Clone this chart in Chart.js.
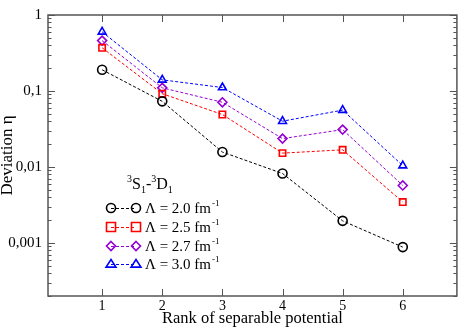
<!DOCTYPE html>
<html><head><meta charset="utf-8">
<script src="https://cdn.jsdelivr.net/npm/chart.js@4.4.1/dist/chart.umd.min.js"></script>
<style>html,body{margin:0;padding:0;background:#fff}#w{width:463px;height:334px}</style>
</head><body><div id="w"><canvas id="c"></canvas></div>
<script>
const ranks = [1, 2, 3, 4, 5, 6];
const eta20 = [0.19, 0.073, 0.0157, 0.0082, 0.00195, 0.00088];
const eta25 = [0.37, 0.092, 0.049, 0.0152, 0.0168, 0.00345];
const eta27 = [0.46, 0.11, 0.071, 0.0236, 0.031, 0.0057];
const eta30 = [0.60, 0.14, 0.111, 0.040, 0.056, 0.0104];
const lambdas = ['2.0', '2.5', '2.7', '3.0'];
const xTicks = [1, 2, 3, 4, 5, 6];
const yTicks = [0.001, 0.01, 0.1, 1];
const yLabels = {0.001: '0,001', 0.01: '0,01', 0.1: '0,1', 1: '1'};

const series = [eta20, eta25, eta27, eta30];
const colors = ['#000000', '#ff0000', '#9400d3', '#0000ff'];
const styles = ['circle', 'rect', 'rectRot', 'triangle'];
const FONT = '"Liberation Serif", "Times New Roman", serif';

const datasets = series.map((s, i) => ({
  label: 'Λ = ' + lambdas[i] + ' fm-1',
  data: ranks.map((r, j) => ({x: r, y: s[j]})),
  borderColor: colors[i], backgroundColor: 'rgba(0,0,0,0)',
  borderWidth: 1, borderDash: [3, 2],
  pointStyle: styles[i], pointRadius: 4.5, pointBorderWidth: 1.6,
  pointBorderColor: colors[i], pointBackgroundColor: 'rgba(0,0,0,0)',
  tension: 0
}));

function drawMarker(ctx, style, x, y, r, color) {
  ctx.save();
  ctx.strokeStyle = color; ctx.lineWidth = 1.6; ctx.setLineDash([]);
  ctx.beginPath();
  if (style === 'circle') ctx.arc(x, y, r, 0, Math.PI * 2);
  else if (style === 'rect') { const s = r; ctx.rect(x - s, y - s, 2 * s, 2 * s); }
  else if (style === 'rectRot') { ctx.moveTo(x, y - r); ctx.lineTo(x + r, y); ctx.lineTo(x, y + r); ctx.lineTo(x - r, y); ctx.closePath(); }
  else { ctx.moveTo(x, y - r); ctx.lineTo(x + r * 1.1, y + r * 0.7); ctx.lineTo(x - r * 1.1, y + r * 0.7); ctx.closePath(); }
  ctx.stroke();
  ctx.restore();
}

const frame = {
  id: 'frame',
  afterDraw(chart) {
    const {ctx, chartArea: a, scales: {x, y}} = chart;
    ctx.save();
    ctx.strokeStyle = '#555'; ctx.lineWidth = 1.5;
    ctx.strokeRect(a.left, a.top, a.right - a.left, a.bottom - a.top);
    ctx.lineWidth = 1;
    ctx.beginPath();
    for (const v of xTicks) {
      const px = Math.round(x.getPixelForValue(v)) + 0.5;
      ctx.moveTo(px, a.bottom); ctx.lineTo(px, a.bottom - 7);
      ctx.moveTo(px, a.top); ctx.lineTo(px, a.top + 7);
    }
    for (let e = -4; e <= 0; e++) {
      for (let m = 1; m <= 9; m++) {
        const v = m * Math.pow(10, e);
        if (v < y.min || v > y.max) continue;
        const py = Math.round(y.getPixelForValue(v)) + 0.5;
        const len = m === 1 ? 7 : 3.5;
        ctx.moveTo(a.left, py); ctx.lineTo(a.left + len, py);
        ctx.moveTo(a.right, py); ctx.lineTo(a.right - len, py);
      }
    }
    ctx.stroke();
    ctx.restore();
  },
  afterDatasetsDraw(chart) {
    const ctx = chart.ctx;
    ctx.save();
    ctx.fillStyle = '#000';
    ctx.textBaseline = 'alphabetic';
    let tx = 127; const by = 189;
    const big = '16px ' + FONT, small = '10px ' + FONT;
    const parts = [['3', small, -7], ['S', big, 0], ['1', small, 4], ['-', big, 0], ['3', small, -7], ['D', big, 0], ['1', small, 4]];
    for (const [t, f, dy] of parts) { ctx.font = f; ctx.fillText(t, tx, by + dy); tx += ctx.measureText(t).width; }
    const rows = [208, 227, 246, 264];
    chart.data.datasets.forEach((ds, i) => {
      const yy = rows[i];
      ctx.save();
      ctx.strokeStyle = ds.borderColor; ctx.lineWidth = 1; ctx.setLineDash([3, 2]);
      ctx.beginPath(); ctx.moveTo(111, yy + 0.5); ctx.lineTo(136, yy + 0.5); ctx.stroke();
      ctx.restore();
      drawMarker(ctx, styles[i], 111, yy, 4.5, colors[i]);
      drawMarker(ctx, styles[i], 136, yy, 4.5, colors[i]);
      ctx.font = '15px ' + FONT;
      const t = 'Λ = ' + lambdas[i] + ' fm';
      ctx.fillText(t, 145, yy + 5);
      const w = ctx.measureText(t).width;
      ctx.font = '9px ' + FONT;
      ctx.fillText('-1', 145 + w + 1, yy - 2);
    });
    ctx.restore();
  }
};

new Chart(document.getElementById('c'), {
  type: 'line',
  data: {datasets},
  options: {
    responsive: true, maintainAspectRatio: false, animation: false,
    layout: {padding: {top: 6, right: 1, left: 0, bottom: 0}},
    plugins: {legend: {display: false}, tooltip: {enabled: false}},
    scales: {
      x: {
        type: 'linear', min: 0.1, max: 6.9,
        afterBuildTicks: s => { s.ticks = xTicks.map(v => ({value: v})); },
        afterFit: s => { s.height = 38; },
        grid: {display: false, drawTicks: false},
        border: {display: false},
        ticks: {color: '#000', font: {family: FONT, size: 14}, padding: 2, maxRotation: 0},
        title: {display: true, text: 'Rank of separable potential', color: '#000', font: {family: FONT, size: 16.5}, padding: {top: 0, bottom: 5}}
      },
      y: {
        type: 'logarithmic', min: 0.0002, max: 1,
        afterBuildTicks: s => { s.ticks = yTicks.map(v => ({value: v})); },
        afterFit: s => { s.width = 48; },
        grid: {display: false, drawTicks: false},
        border: {display: false},
        ticks: {color: '#000', font: {family: FONT, size: 15}, padding: 6, callback: v => yLabels[v] || ''},
        title: {display: true, text: 'Deviation η', color: '#000', font: {family: FONT, size: 17}, padding: {top: -3, bottom: 0}}
      }
    }
  },
  plugins: [frame]
});
</script></body></html>
